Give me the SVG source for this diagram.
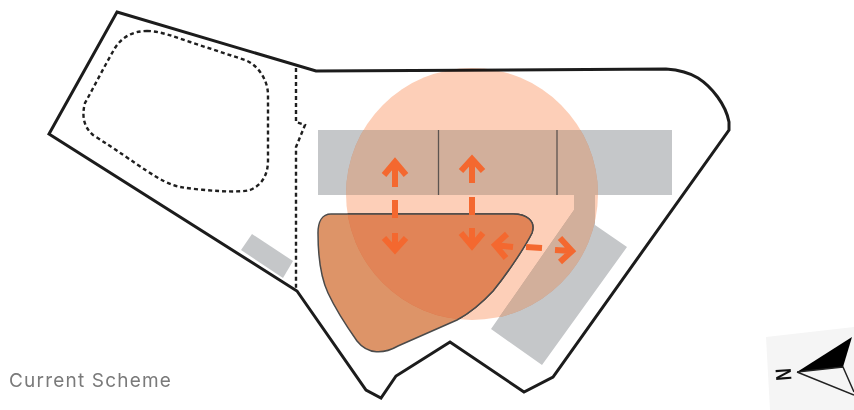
<svg xmlns="http://www.w3.org/2000/svg" width="854" height="410" viewBox="0 0 854 410">
<style>
.grey{fill:#c5c7c9}
.greyo{fill:#d2af9b}
.arrow{fill:none;stroke:#f4682f;stroke-width:6}
.dash{fill:none;stroke:#1f1f1f;stroke-width:2.400;stroke-dasharray:4 3}
</style>
<defs>
<clipPath id="in-circle"><circle cx="472" cy="194" r="126"/></clipPath>
<path id="bar" d="M318 130H672V195H318Z"/>
<path id="wing" d="M574 195H595V225L627 247L542 365L491 329L574 210Z"/>
<path id="blob" d="M331 214H513C527 214 536 221 532 233C526 245 510 270 493 291C480 305 468 314 457 320L398 346C384 354 368 355 357 341C345 324 335 308 328 293C321 278 318 255 318 233C318 222 322 214 331 214Z"/>
</defs>
<rect width="854" height="410" fill="#fff"/>
<g id="grey-blocks">
<use href="#bar" class="grey"/>
<use href="#wing" class="grey"/>
<path class="grey" d="M252 234L293 261L283 278L241 250Z"/>
</g>
<g id="site-outline">
<path d="M117 12L316 71L666 69C680 70 690 73 698 78C712 87 726 105 729 122L729 130L553 377L524 392L450 342L396 376L381 398L366 390L297 291L49 134Z" fill="none" stroke="#1c1c1c" stroke-width="3"/>
</g>
<g id="dashed-lines">
<path class="dash" d="M147 31C160 31 175 37 190 42L245 60C258 65 268 80 268 95V160C268 175 262 185 250 190C240 193 205 191 180 187C160 183 140 165 93 135C85 128 81 118 85 103C95 85 105 65 115 48C122 37 133 31 147 31Z"/>
<path class="dash" d="M296 68V122L305 125L296 147V290" stroke-width="1.800" stroke-dasharray="3 2"/>
</g>
<g id="building-blob">
<use href="#blob" fill="#dd9468" stroke="#4a4a4a" stroke-width="1.500"/>
</g>
<g id="zone-circle">
<circle cx="472" cy="194" r="126" fill="#fdcfb8" style="mix-blend-mode:multiply"/>
<g clip-path="url(#in-circle)">
<use href="#bar" class="greyo"/>
<use href="#wing" class="greyo"/>
<use href="#blob" fill="#e18457" stroke="#4a4a4a" stroke-width="1.500"/>
</g>
</g>
<g id="dividers">
<path d="M438.500 130V195M557 130V195" stroke="#5c5450" stroke-width="1.300" fill="none"/>
</g>
<g id="connectors">
<path class="arrow" d="M395 187V162M384 175L395 162L406 175"/>
<path class="arrow" d="M395 200V218"/>
<path class="arrow" d="M395 233V250M384 238L395 250L406 238"/>
<path class="arrow" d="M472 183V159M461 171L472 159L483 171"/>
<path class="arrow" d="M472 197V215"/>
<path class="arrow" d="M472 228V246M461 233L472 246L483 233"/>
<path class="arrow" d="M513 247L495 245M507 234L495 245L506 258"/>
<path class="arrow" d="M526 247L542 248"/>
<path class="arrow" d="M555 250L572 251M560 238L572 251L560 262"/>
</g>
<g id="north-mark">
<path d="M766 337L854 327V410H770Z" fill="#f5f5f5"/>
<path d="M797 372L852 337L843 367Z" fill="#000"/>
<path d="M797 372L843 367L854 392M797 372L854 395" fill="none" stroke="#222" stroke-width="1.500"/>
<text transform="translate(791 374) rotate(-94) scale(1 1.300)" font-family="'Liberation Sans',sans-serif" font-size="17" font-weight="700" text-anchor="middle" fill="#111">N</text>
</g>
<text id="caption" x="9" y="387" font-family="Inter,'Liberation Sans',sans-serif" font-size="19" letter-spacing="1.200" fill="#7a7a7a">Current Scheme</text>
</svg>
